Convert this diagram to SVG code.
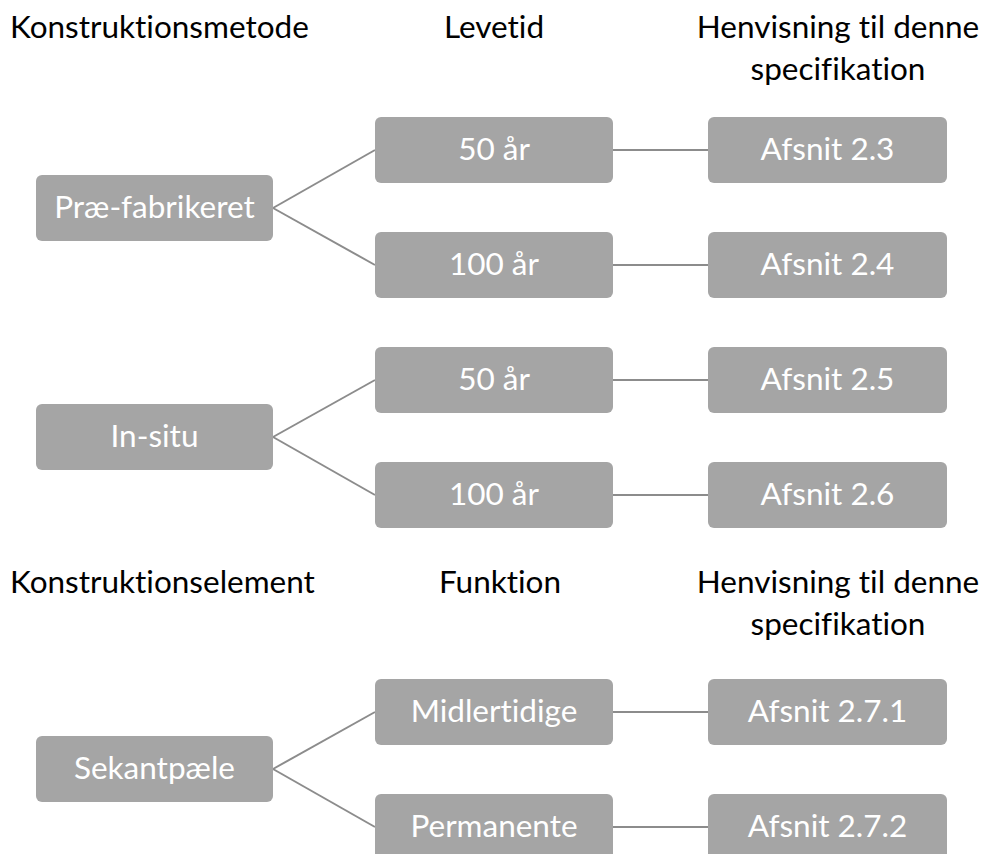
<svg xmlns="http://www.w3.org/2000/svg" width="982" height="854" viewBox="0 0 982 854">
<style>
.hdr{font-family:Lato,"Open Sans","Liberation Sans",sans-serif;font-size:31.5px;fill:#000;font-variant-ligatures:none}
.box rect{fill:#a5a5a5}
.box text{font-family:Lato,"Open Sans","Liberation Sans",sans-serif;font-size:31.5px;fill:#fff;text-anchor:middle;font-variant-ligatures:none}
.conn line{stroke:#8c8c8c;stroke-width:2}
</style>
<rect width="982" height="854" fill="#fff"/>
<g id="headers">
<text class="hdr" x="10" y="38">Konstruktionsmetode</text>
<text class="hdr" x="494" y="38" text-anchor="middle">Levetid</text>
<text class="hdr" x="838" y="38" text-anchor="middle">Henvisning til denne</text>
<text class="hdr" x="838" y="80" text-anchor="middle">specifikation</text>
<text class="hdr" x="10" y="593">Konstruktionselement</text>
<text class="hdr" x="500" y="593" text-anchor="middle">Funktion</text>
<text class="hdr" x="838" y="593" text-anchor="middle">Henvisning til denne</text>
<text class="hdr" x="838" y="635" text-anchor="middle">specifikation</text>
</g>
<g id="connectors" class="conn">
<line x1="273" y1="208" x2="375" y2="150"/>
<line x1="273" y1="208" x2="375" y2="265"/>
<line x1="613" y1="150" x2="708" y2="150"/>
<line x1="613" y1="265" x2="708" y2="265"/>
<line x1="273" y1="437" x2="375" y2="380"/>
<line x1="273" y1="437" x2="375" y2="495"/>
<line x1="613" y1="380" x2="708" y2="380"/>
<line x1="613" y1="495" x2="708" y2="495"/>
<line x1="273" y1="769" x2="375" y2="712"/>
<line x1="273" y1="769" x2="375" y2="827"/>
<line x1="613" y1="712" x2="708" y2="712"/>
<line x1="613" y1="827" x2="708" y2="827"/>
</g>
<g id="n-praefab" class="box"><rect x="36" y="175" width="237" height="66" rx="6"/><text x="154.5" y="218">Præ-fabrikeret</text></g>
<g id="n-50a" class="box"><rect x="375" y="117" width="238" height="66" rx="6"/><text x="494" y="160">50 år</text></g>
<g id="n-100a" class="box"><rect x="375" y="232" width="238" height="66" rx="6"/><text x="494" y="275">100 år</text></g>
<g id="n-a23" class="box"><rect x="708" y="117" width="239" height="66" rx="6"/><text x="827.5" y="160">Afsnit 2.3</text></g>
<g id="n-a24" class="box"><rect x="708" y="232" width="239" height="66" rx="6"/><text x="827.5" y="275">Afsnit 2.4</text></g>
<g id="n-insitu" class="box"><rect x="36" y="404" width="237" height="66" rx="6"/><text x="154.5" y="447">In-situ</text></g>
<g id="n-50b" class="box"><rect x="375" y="347" width="238" height="66" rx="6"/><text x="494" y="390">50 år</text></g>
<g id="n-100b" class="box"><rect x="375" y="462" width="238" height="66" rx="6"/><text x="494" y="505">100 år</text></g>
<g id="n-a25" class="box"><rect x="708" y="347" width="239" height="66" rx="6"/><text x="827.5" y="390">Afsnit 2.5</text></g>
<g id="n-a26" class="box"><rect x="708" y="462" width="239" height="66" rx="6"/><text x="827.5" y="505">Afsnit 2.6</text></g>
<g id="n-sekant" class="box"><rect x="36" y="736" width="237" height="66" rx="6"/><text x="154.5" y="779">Sekantpæle</text></g>
<g id="n-midl" class="box"><rect x="375" y="679" width="238" height="66" rx="6"/><text x="494" y="722">Midlertidige</text></g>
<g id="n-perm" class="box"><rect x="375" y="794" width="238" height="66" rx="6"/><text x="494" y="837">Permanente</text></g>
<g id="n-a271" class="box"><rect x="708" y="679" width="239" height="66" rx="6"/><text x="827.5" y="722">Afsnit 2.7.1</text></g>
<g id="n-a272" class="box"><rect x="708" y="794" width="239" height="66" rx="6"/><text x="827.5" y="837">Afsnit 2.7.2</text></g>
</svg>
